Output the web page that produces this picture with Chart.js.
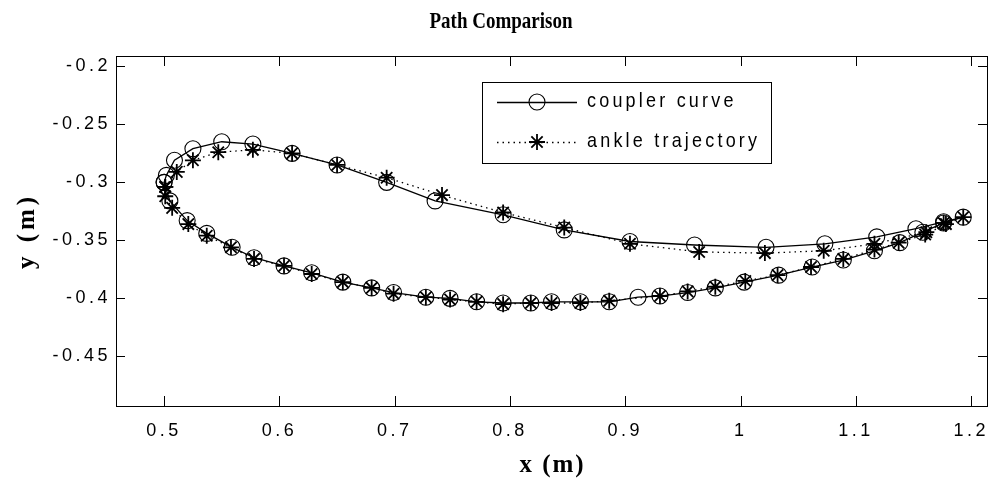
<!DOCTYPE html>
<html>
<head>
<meta charset="utf-8">
<script src="https://cdn.jsdelivr.net/npm/chart.js@4.4.1/dist/chart.umd.min.js"></script>
<style>
  html, body { margin: 0; padding: 0; background: #ffffff; }
  #wrap { width: 998px; height: 486px; position: relative; }
</style>
</head>
<body>
<div id="wrap"><canvas id="c" width="998" height="486"></canvas></div>
<script>
// ---------------- data ----------------
const chartTitle = 'Path Comparison';
const xAxisTitle = 'x (m)';
const yAxisTitle = 'y (m)';
const seriesNames = ['coupler curve', 'ankle trajectory'];

const xTickValues = [0.5, 0.6, 0.7, 0.8, 0.9, 1.0, 1.1, 1.2];
const xTickLabels = ['0.5', '0.6', '0.7', '0.8', '0.9', '1', '1.1', '1.2'];
const yTickValues = [-0.45, -0.4, -0.35, -0.3, -0.25, -0.2];
const yTickLabels = ['-0.45', '-0.4', '-0.35', '-0.3', '-0.25', '-0.2'];
const xLimits = [0.4583, 1.2136];
const yLimits = [-0.4928, -0.1911];

const couplerX = [0.500, 0.502, 0.509, 0.525, 0.550, 0.577, 0.611, 0.650, 0.693, 0.735,
                  0.794, 0.847, 0.904, 0.960, 1.022, 1.073, 1.118, 1.152, 1.176, 1.193,
                  1.176, 1.158, 1.138, 1.116, 1.089, 1.062, 1.033, 1.003, 0.978, 0.954,
                  0.930, 0.911, 0.886, 0.861, 0.836, 0.818, 0.794, 0.771, 0.748, 0.727,
                  0.699, 0.680, 0.655, 0.628, 0.604, 0.578, 0.559, 0.537, 0.520, 0.505,
                  0.500];
const couplerY = [-0.300, -0.294, -0.281, -0.271, -0.265, -0.267, -0.275, -0.285, -0.300, -0.316,
                  -0.328, -0.341, -0.351, -0.354, -0.356, -0.353, -0.347, -0.340, -0.334, -0.330,
                  -0.335, -0.343, -0.352, -0.359, -0.367, -0.373, -0.380, -0.386, -0.391, -0.395,
                  -0.398, -0.399, -0.403, -0.403, -0.403, -0.404, -0.404, -0.403, -0.400, -0.399,
                  -0.395, -0.391, -0.386, -0.378, -0.372, -0.365, -0.356, -0.344, -0.333, -0.316,
                  -0.300];

const ankleX = [0.501, 0.511, 0.525, 0.547, 0.577, 0.611, 0.650, 0.693, 0.741, 0.794,
                0.847, 0.904, 0.964, 1.021, 1.072, 1.116, 1.161, 1.176, 1.193,
                1.178, 1.160, 1.137, 1.116, 1.089, 1.061, 1.032, 1.004, 0.978, 0.954,
                0.930, 0.886, 0.861, 0.836, 0.818, 0.794, 0.771, 0.748, 0.727, 0.699,
                0.680, 0.655, 0.628, 0.604, 0.578, 0.558, 0.537, 0.521, 0.507, 0.501,
                0.501];
const ankleY = [-0.304, -0.291, -0.281, -0.274, -0.272, -0.275, -0.285, -0.296, -0.311, -0.326,
                -0.339, -0.353, -0.360, -0.361, -0.359, -0.353, -0.343, -0.335, -0.330,
                -0.336, -0.345, -0.352, -0.358, -0.366, -0.373, -0.380, -0.385, -0.390, -0.394,
                -0.398, -0.402, -0.404, -0.404, -0.404, -0.405, -0.403, -0.401, -0.399, -0.396,
                -0.391, -0.386, -0.379, -0.372, -0.366, -0.356, -0.346, -0.336, -0.322, -0.312,
                -0.304];

// ---------------- helpers ----------------
const toPoints = (xs, ys) => xs.map((x, i) => ({ x: x, y: ys[i] }));
const labelFor = (vals, labels, v) => {
  const i = vals.findIndex(t => Math.abs(t - v) < 1e-9);
  return i >= 0 ? labels[i] : '';
};
const SANS = '"Liberation Sans", Arial, sans-serif';
const SERIF = '"Liberation Serif", "Times New Roman", serif';
const TICK_SPACING = '3.5px';

function stretchedText(ctx, text, x, y, sy) {
  ctx.save();
  ctx.translate(x, y);
  ctx.scale(1, sy);
  ctx.fillText(text, 0, 0);
  ctx.restore();
}

const matlabPlugin = {
  id: 'matlabLook',
  beforeDraw(chart) {
    chart.ctx.letterSpacing = TICK_SPACING;
  },
  afterDatasetsDraw(chart) {
    const ctx = chart.ctx;
    const a = chart.chartArea;
    const xs = chart.scales.x, ys = chart.scales.y;
    ctx.save();
    ctx.letterSpacing = '0px';
    ctx.strokeStyle = '#000';
    ctx.lineWidth = 1;
    // box
    ctx.strokeRect(Math.round(a.left) + 0.5, Math.round(a.top) + 0.5,
                   Math.round(a.right - a.left), Math.round(a.bottom - a.top));
    // inside ticks
    ctx.beginPath();
    xs.ticks.forEach(t => {
      const p = Math.round(xs.getPixelForValue(t.value)) + 0.5;
      ctx.moveTo(p, a.bottom); ctx.lineTo(p, a.bottom - 10);
      ctx.moveTo(p, a.top); ctx.lineTo(p, a.top + 10);
    });
    ys.ticks.forEach(t => {
      const p = Math.round(ys.getPixelForValue(t.value)) + 0.5;
      ctx.moveTo(a.left, p); ctx.lineTo(a.left + 9, p);
      ctx.moveTo(a.right, p); ctx.lineTo(a.right - 9, p);
    });
    ctx.stroke();

    // legend
    const bx = 482, by = 82, bw = 289, bh = 81;
    ctx.fillStyle = '#fff';
    ctx.fillRect(bx, by, bw, bh);
    ctx.strokeRect(bx + 0.5, by + 0.5, bw, bh);
    const rows = [102, 142];
    chart.data.datasets.forEach((ds, i) => {
      const yy = rows[i];
      ctx.save();
      ctx.strokeStyle = '#000';
      ctx.fillStyle = ds.pointBackgroundColor;
      ctx.lineWidth = ds.borderWidth;
      ctx.setLineDash(ds.borderDash || []);
      ctx.beginPath();
      ctx.moveTo(497, yy + 0.5); ctx.lineTo(577, yy + 0.5);
      ctx.stroke();
      ctx.setLineDash([]);
      ctx.lineWidth = ds.pointBorderWidth;
      Chart.helpers.drawPoint(ctx, {
        pointStyle: ds.pointStyle, radius: ds.pointRadius, borderWidth: ds.pointBorderWidth, rotation: 0
      }, 537, yy);
      ctx.restore();
      ctx.save();
      ctx.letterSpacing = '3.2px';
      ctx.fillStyle = '#000';
      ctx.font = '18px ' + SANS;
      ctx.textAlign = 'left';
      ctx.textBaseline = 'middle';
      stretchedText(ctx, ds.label, 587, yy, 1.1);
      ctx.restore();
    });

    // title and axis titles
    ctx.fillStyle = '#000';
    ctx.textAlign = 'center';
    ctx.textBaseline = 'middle';
    ctx.font = 'bold 19px ' + SERIF;
    stretchedText(ctx, chartTitle, 501, 22, 1.25);
    ctx.font = 'bold 25px ' + SERIF;
    ctx.letterSpacing = '2px';
    stretchedText(ctx, xAxisTitle, (a.left + a.right) / 2 + 1, 465, 1.05);
    ctx.save();
    ctx.translate(28, (a.top + a.bottom) / 2);
    ctx.rotate(-Math.PI / 2);
    ctx.letterSpacing = '4px';
    ctx.fillText(yAxisTitle, 0, 0);
    ctx.restore();
    ctx.restore();
  }
};

const tickFont = { family: SANS, size: 18 };

new Chart(document.getElementById('c'), {
  type: 'scatter',
  data: {
    datasets: [
      {
        label: seriesNames[0],
        data: toPoints(couplerX, couplerY),
        showLine: true,
        borderColor: '#000',
        borderWidth: 1.3,
        pointStyle: 'circle',
        pointRadius: 8,
        pointHoverRadius: 8,
        pointBorderWidth: 1.1,
        pointBorderColor: '#000',
        pointBackgroundColor: 'rgba(0,0,0,0)',
        order: 2
      },
      {
        label: seriesNames[1],
        data: toPoints(ankleX, ankleY),
        showLine: true,
        borderColor: '#000',
        borderWidth: 1.3,
        borderDash: [1.5, 4],
        pointStyle: 'star',
        pointRadius: 8,
        pointHoverRadius: 8,
        pointBorderWidth: 1.8,
        pointBorderColor: '#000',
        pointBackgroundColor: '#000',
        order: 1
      }
    ]
  },
  options: {
    responsive: false,
    animation: false,
    events: [],
    layout: { padding: { top: 56, right: 7, left: 0, bottom: 0 } },
    plugins: {
      legend: { display: false },
      title: { display: false },
      tooltip: { enabled: false }
    },
    scales: {
      x: {
        type: 'linear',
        min: xLimits[0],
        max: xLimits[1],
        afterBuildTicks: s => { s.ticks = xTickValues.map(v => ({ value: v })); },
        afterFit: s => { s.height = 80; },
        grid: { display: false, drawTicks: false },
        border: { display: false },
        ticks: {
          autoSkip: false, maxRotation: 0, padding: 14, color: '#000', font: tickFont,
          callback: v => labelFor(xTickValues, xTickLabels, v)
        }
      },
      y: {
        type: 'linear',
        min: yLimits[0],
        max: yLimits[1],
        afterBuildTicks: s => { s.ticks = yTickValues.map(v => ({ value: v })); },
        afterFit: s => { s.width = 116; },
        grid: { display: false, drawTicks: false },
        border: { display: false },
        ticks: {
          autoSkip: false, padding: 5, color: '#000', font: tickFont,
          callback: v => labelFor(yTickValues, yTickLabels, v)
        }
      }
    }
  },
  plugins: [matlabPlugin]
});
</script>
</body>
</html>
